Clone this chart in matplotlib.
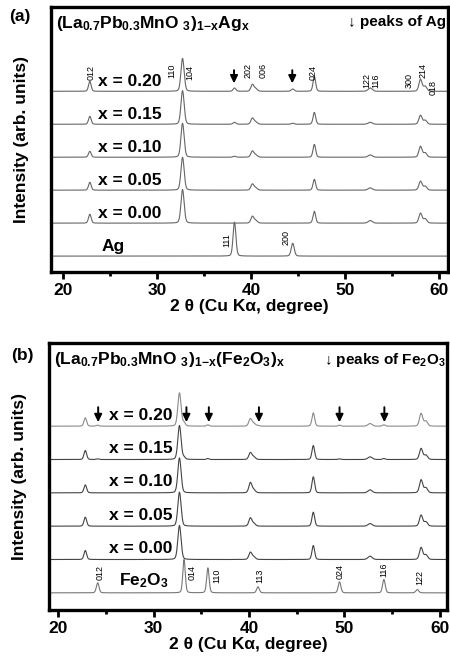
import numpy as np
import matplotlib

matplotlib.use("Agg")
import matplotlib.pyplot as plt
from matplotlib.ticker import MultipleLocator

plt.rcParams["font.family"] = ["Liberation Sans", "DejaVu Sans"]
plt.rcParams["font.weight"] = "bold"
plt.rcParams["mathtext.fontset"] = "custom"
plt.rcParams["mathtext.rm"] = "Liberation Sans:bold"
plt.rcParams["mathtext.it"] = "Liberation Sans:bold"
plt.rcParams["mathtext.bf"] = "Liberation Sans:bold"
plt.rcParams["mathtext.default"] = "rm"

two_theta = np.linspace(18.5, 61.5, 4000)

# LPMO reflections: positions (deg), profile sigma (deg)
lpmo_pos = [22.85, 32.72, 40.15, 40.5, 46.75, 52.7, 58.05, 58.55]
lpmo_sig = [0.14, 0.17, 0.16, 0.18, 0.14, 0.22, 0.17, 0.18]

samples = ["x = 0.20", "x = 0.15", "x = 0.10", "x = 0.05", "x = 0.00"]

# panel (a): LPMO peak heights per sample (units of trace spacing)
ag_lpmo_h = [
    [0.30, 1.00, 0.20, 0.08, 0.45, 0.10, 0.36, 0.15],
    [0.24, 1.02, 0.18, 0.07, 0.36, 0.06, 0.27, 0.12],
    [0.18, 1.03, 0.18, 0.07, 0.39, 0.07, 0.33, 0.13],
    [0.24, 1.00, 0.18, 0.07, 0.33, 0.07, 0.27, 0.12],
    [0.27, 1.02, 0.20, 0.08, 0.36, 0.08, 0.30, 0.13],
]
ag_pos = [38.25, 44.45]
ag_sig = [0.15, 0.16]
ag_in_sample_h = [[0.10, 0.07], [0.06, 0.03], [0.03, 0.0], [0.0, 0.0], [0.0, 0.0]]
ag_ref_h = [1.03, 0.39]

# panel (b)
fe_lpmo_h = [
    [0.25, 1.00, 0.22, 0.08, 0.40, 0.08, 0.38, 0.15],
    [0.27, 1.02, 0.20, 0.08, 0.42, 0.08, 0.33, 0.13],
    [0.24, 1.05, 0.30, 0.09, 0.48, 0.09, 0.39, 0.15],
    [0.27, 1.02, 0.24, 0.08, 0.42, 0.08, 0.33, 0.13],
    [0.27, 1.02, 0.21, 0.08, 0.42, 0.10, 0.36, 0.14],
]
fe_pos = [24.15, 33.2, 35.7, 40.95, 49.5, 54.15, 57.65]
fe_sig = [0.14, 0.13, 0.13, 0.14, 0.14, 0.14, 0.15]
fe_in_sample_h = [
    [0.03, 0.10, 0.04, 0.02, 0.03, 0.04, 0.0],
    [0.02, 0.06, 0.03, 0.0, 0.02, 0.03, 0.0],
    [0.0] * 7,
    [0.0] * 7,
    [0.0] * 7,
]
fe_ref_h = [0.30, 1.00, 0.75, 0.18, 0.33, 0.40, 0.10]

ag_arrows = [38.2, 44.4]
fe_arrows = [24.2, 33.45, 35.8, 41.05, 49.5, 54.2]

# miller index labels: (text, x, y bottom relative to its trace)
ag_top_hkl = [("012", 23.0, 0.33), ("110", 31.6, 0.40), ("104", 33.5, 0.33),
              ("202", 39.7, 0.40), ("006", 41.3, 0.40), ("024", 46.6, 0.33),
              ("122", 52.3, 0.10), ("116", 53.3, 0.10), ("300", 56.8, 0.10),
              ("214", 58.3, 0.40), ("018", 59.4, -0.12)]
ag_ref_hkl = [("111", 37.4, 0.27), ("200", 43.7, 0.33)]
fe_ref_hkl = [("012", 24.4, 0.39), ("014", 34.0, 0.39), ("110", 36.6, 0.30),
              ("113", 41.1, 0.30), ("024", 49.6, 0.42), ("116", 54.1, 0.48),
              ("122", 57.9, 0.24)]

FS = 12.5
FS_KEY = 11


def pattern(pos, sig, hts):
    y = np.zeros_like(two_theta)
    for c, s, h in zip(pos, sig, hts):
        g = np.exp(-0.5 * ((two_theta - c) / s) ** 2)
        l = 1.0 / (1.0 + ((two_theta - c) / (1.18 * s)) ** 2)
        y += h * (0.8 * g + 0.2 * l)
    return y


def style_axes(ax, xlim, ylim):
    ax.set_xlim(*xlim)
    ax.set_ylim(*ylim)
    ax.set_yticks([])
    for sp in ax.spines.values():
        sp.set_linewidth(2.4)
    ax.xaxis.set_major_locator(MultipleLocator(10))
    ax.xaxis.set_minor_locator(MultipleLocator(5))
    ax.tick_params(axis="x", which="major", direction="out", length=5, width=2,
                   labelsize=FS, pad=3)
    ax.tick_params(axis="x", which="minor", direction="out", length=3, width=2)
    for t in ax.get_xticklabels():
        t.set_fontweight("bold")
    ax.set_xlabel("2 θ (Cu Kα, degree)", fontsize=FS, fontweight="bold", labelpad=1)
    ax.set_ylabel("Intensity (arb. units)", fontsize=FS, fontweight="bold", labelpad=16)


def arrow(ax, x, y0, y1):
    ax.annotate("", xy=(x, y0), xytext=(x, y1),
                arrowprops=dict(arrowstyle="-|>,head_width=0.22,head_length=0.45",
                                lw=1.4, color="k", shrinkA=0, shrinkB=0))


fig = plt.figure(figsize=(4.5, 6.6), dpi=100)
ax1 = fig.add_axes([0.113, 0.588, 0.883, 0.401])
ax2 = fig.add_axes([0.109, 0.076, 0.884, 0.404])

# ---- panel (a)
n = len(samples)
for i in range(n):
    off = n - i
    y = pattern(lpmo_pos, lpmo_sig, ag_lpmo_h[i]) + pattern(ag_pos, ag_sig, ag_in_sample_h[i])
    ax1.plot(two_theta, y + off, color="#666666", lw=0.8)
    ax1.text(23.7, off + 0.15, samples[i], fontsize=FS, fontweight="bold", va="baseline")
ax1.plot(two_theta, pattern(ag_pos, ag_sig, ag_ref_h), color="#666666", lw=0.8)
ax1.text(24.1, 0.15, "Ag", fontsize=FS, fontweight="bold", va="baseline")

for lab, x, yb in ag_top_hkl:
    ax1.text(x, n + yb, lab, rotation=90, fontsize=6.5, fontweight="normal",
             ha="center", va="bottom")
for lab, x, yb in ag_ref_hkl:
    ax1.text(x, yb, lab, rotation=90, fontsize=6.5, fontweight="normal",
             ha="center", va="bottom")
for x in ag_arrows:
    arrow(ax1, x, n + 0.24, n + 0.64)

ax1.text(0.012, 0.975, r"(La$_{0.7}$Pb$_{0.3}$MnO $_{3}$)$_{1\!-\!x}$Ag$_{x}$",
         transform=ax1.transAxes, fontsize=FS, fontweight="bold", va="top", ha="left")
ax1.text(0.995, 0.972, "↓ peaks of Ag", transform=ax1.transAxes, fontsize=FS_KEY,
         fontweight="bold", va="top", ha="right")
style_axes(ax1, (18.7, 61.0), (-0.48, 7.55))
fig.text(0.045, 0.975, "(a)", fontsize=FS, fontweight="bold", ha="center", va="center")

# ---- panel (b)
colors_b = ["#8a8a8a", "#444444", "#444444", "#444444", "#444444"]
for i in range(n):
    off = n - i
    y = pattern(lpmo_pos, lpmo_sig, fe_lpmo_h[i]) + pattern(fe_pos, fe_sig, fe_in_sample_h[i])
    ax2.plot(two_theta, y + off, color=colors_b[i], lw=0.8)
    ax2.text(32.0, off + 0.2, samples[i], fontsize=FS, fontweight="bold",
             va="baseline", ha="right")
ax2.plot(two_theta, pattern(fe_pos, fe_sig, fe_ref_h), color="#777777", lw=0.8)
ax2.text(26.4, 0.24, r"Fe$_2$O$_3$", fontsize=FS, fontweight="bold", va="baseline")

for lab, x, yb in fe_ref_hkl:
    ax2.text(x, yb, lab, rotation=90, fontsize=6.5, fontweight="normal",
             ha="center", va="bottom")
for x in fe_arrows:
    arrow(ax2, x, n + 0.12, n + 0.57)

ax2.text(0.012, 0.975, r"(La$_{0.7}$Pb$_{0.3}$MnO $_{3}$)$_{1\!-\!x}$(Fe$_2$O$_3$)$_{x}$",
         transform=ax2.transAxes, fontsize=FS, fontweight="bold", va="top", ha="left")
ax2.text(0.997, 0.972, r"↓ peaks of Fe$_2$O$_3$", transform=ax2.transAxes, fontsize=FS_KEY,
         fontweight="bold", va="top", ha="right")
style_axes(ax2, (19.05, 60.75), (-0.51, 7.49))
fig.text(0.05, 0.462, "(b)", fontsize=FS, fontweight="bold", ha="center", va="center")

fig.savefig("out.png", dpi=100)
